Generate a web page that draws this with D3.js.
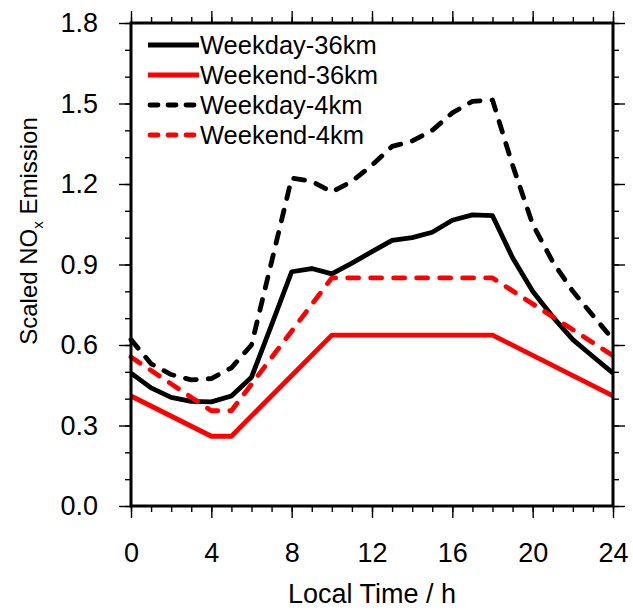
<!DOCTYPE html>
<html>
<head>
<meta charset="utf-8">
<script src="https://cdn.jsdelivr.net/npm/d3@7"></script>
<style>
    body { margin: 0; background: #fff; }
    svg { font-family: "Liberation Sans", Arial, Helvetica, sans-serif; }
</style>
</head>
<body>
<svg id="graphSvg" width="633" height="610"></svg>
<script>
// Data
const hours = [0, 1, 2, 3, 4, 5, 6, 7, 8, 9, 10, 11, 12, 13, 14, 15, 16, 17, 18, 19, 20, 21, 22, 23, 24];
const weekday36 = [0.495, 0.44, 0.405, 0.39, 0.388, 0.41, 0.48, 0.675, 0.873, 0.885, 0.865, 0.905, 0.948,
    0.99, 1.0, 1.02, 1.065, 1.085, 1.082, 0.925, 0.80, 0.705, 0.62, 0.557, 0.495];
const weekday4 = [0.62, 0.53, 0.49, 0.47, 0.475, 0.515, 0.60, 0.91, 1.222, 1.21, 1.17, 1.21, 1.27,
    1.34, 1.36, 1.40, 1.465, 1.508, 1.513, 1.27, 1.05, 0.91, 0.80, 0.71, 0.62];
const weekendHours = [0, 4, 5, 10, 18, 24];
const weekend36 = [0.41, 0.26, 0.26, 0.637, 0.637, 0.41];
const weekend4 = [0.555, 0.355, 0.355, 0.85, 0.85, 0.56];

const seriesNames = ["Weekday-36km", "Weekend-36km", "Weekday-4km", "Weekend-4km"];
const xTicks = [0, 4, 8, 12, 16, 20, 24];
const xMinor = hours;
const yTicks = [0, 0.3, 0.6, 0.9, 1.2, 1.5, 1.8];
const yMinor = d3.range(0, 19).map(i => i / 10);

const width = 633, height = 610;
const margin = {top: 23, right: 20, bottom: 104, left: 131};

const series = [
    {name: seriesNames[0], x: hours, y: weekday36, color: "#000", dash: null},
    {name: seriesNames[1], x: weekendHours, y: weekend36, color: "#f00", dash: null},
    {name: seriesNames[2], x: hours, y: weekday4, color: "#000", dash: "11,12"},
    {name: seriesNames[3], x: weekendHours, y: weekend4, color: "#f00", dash: "11,12"}
];

const x = d3.scaleLinear()
    .domain([0, 24])
    .range([margin.left, width - margin.right]);
const y = d3.scaleLinear()
    .domain([0, 1.8])
    .range([height - margin.bottom, margin.top]);

const svg = d3.select("#graphSvg");

// Axes, ticks point outward
const bottom = height - margin.bottom, right = width - margin.right;

function styleAxis(g) {
    g.select(".domain").remove();
    g.selectAll("line").attr("stroke", "#000").attr("stroke-width", 1.4);
    g.selectAll("text").attr("fill", "#000").attr("font-size", 27);
}

svg.append("g")
    .attr("transform", `translate(0,${bottom})`)
    .call(d3.axisBottom(x).tickValues(xMinor).tickSize(6).tickFormat(""))
    .call(styleAxis);
svg.append("g")
    .attr("transform", `translate(0,${bottom})`)
    .call(d3.axisBottom(x).tickValues(xTicks).tickSize(12).tickPadding(25).tickFormat(d3.format("d")))
    .call(styleAxis);
svg.append("g")
    .attr("transform", `translate(0,${margin.top})`)
    .call(d3.axisTop(x).tickValues(xMinor).tickSize(6).tickFormat(""))
    .call(styleAxis);
svg.append("g")
    .attr("transform", `translate(0,${margin.top})`)
    .call(d3.axisTop(x).tickValues(xTicks).tickSize(12).tickFormat(""))
    .call(styleAxis);

svg.append("g")
    .attr("transform", `translate(${margin.left},0)`)
    .call(d3.axisLeft(y).tickValues(yMinor).tickSize(6).tickFormat(""))
    .call(styleAxis);
svg.append("g")
    .attr("transform", `translate(${margin.left},0)`)
    .call(d3.axisLeft(y).tickValues(yTicks).tickSize(12).tickPadding(21).tickFormat(d3.format(".1f")))
    .call(styleAxis);
svg.append("g")
    .attr("transform", `translate(${right},0)`)
    .call(d3.axisRight(y).tickValues(yMinor).tickSize(6).tickFormat(""))
    .call(styleAxis);
svg.append("g")
    .attr("transform", `translate(${right},0)`)
    .call(d3.axisRight(y).tickValues(yTicks).tickSize(12).tickFormat(""))
    .call(styleAxis);

// Lines
const line = d3.line()
    .x(d => x(d[0]))
    .y(d => y(d[1]));

svg.append("g")
    .selectAll("path")
    .data(series)
    .enter()
    .append("path")
    .attr("d", s => line(s.x.map((h, i) => [h, s.y[i]])))
    .attr("fill", "none")
    .attr("stroke", s => s.color)
    .attr("stroke-width", 4.8)
    .attr("stroke-linejoin", "round")
    .attr("stroke-linecap", s => s.dash ? "round" : "butt")
    .attr("stroke-dasharray", s => s.dash);

// Frame
svg.append("rect")
    .attr("x", margin.left)
    .attr("y", margin.top)
    .attr("width", right - margin.left)
    .attr("height", bottom - margin.top)
    .attr("fill", "none")
    .attr("stroke", "#000")
    .attr("stroke-width", 3);

// Legend
const legend = svg.append("g")
    .selectAll("g")
    .data(series)
    .enter()
    .append("g")
    .attr("transform", (d, i) => `translate(0,${45 + i * 30})`);

legend.append("line")
    .attr("x1", s => s.dash ? 150 : 148)
    .attr("x2", s => s.dash ? 197 : 199)
    .attr("stroke", s => s.color)
    .attr("stroke-width", 4.8)
    .attr("stroke-linecap", s => s.dash ? "round" : "butt")
    .attr("stroke-dasharray", s => s.dash ? "8,10" : null);

legend.append("text")
    .attr("x", 200)
    .attr("y", 9)
    .attr("font-size", 25.5)
    .text(s => s.name);

// Axis titles
svg.append("text")
    .attr("x", (margin.left + right) / 2)
    .attr("y", 603)
    .attr("text-anchor", "middle")
    .attr("font-size", 27)
    .text("Local Time / h");

const yTitle = svg.append("text")
    .attr("transform", "translate(37,231) rotate(-90)")
    .attr("text-anchor", "middle")
    .attr("font-size", 24);
yTitle.append("tspan").text("Scaled NO");
yTitle.append("tspan").attr("font-size", 15).attr("dy", 6).text("x");
yTitle.append("tspan").attr("dy", -6).text(" Emission");
</script>
</body>
</html>
